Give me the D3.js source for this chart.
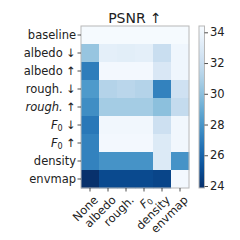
<!DOCTYPE html>
<html><head><meta charset="utf-8">
<script src="https://cdn.jsdelivr.net/npm/d3@7"></script>
<style>body{margin:0;background:#fff}svg{display:block;font-family:"DejaVu Sans",sans-serif}</style>
</head><body><svg id="c" width="240" height="240"></svg>
<script>
const rows = ["baseline","albedo ↓","albedo ↑","rough. ↓","rough. ↑","F0 ↓","F0 ↑","density","envmap"];
const cols = ["None","albedo","rough.","F0","density","envmap"];
const values = [
  [34.3,34.3,34.3,34.3,34.3,34.3],
  [30.3,33.4,33.3,33.4,32.0,34.0],
  [27.0,34.2,34.2,34.2,32.8,34.0],
  [28.2,31.2,31.4,31.2,27.2,32.3],
  [27.7,30.7,30.7,30.7,30.0,31.8],
  [26.8,34.1,34.1,34.1,32.2,34.1],
  [27.2,34.2,34.2,34.2,33.0,34.1],
  [27.2,27.9,27.9,27.9,33.0,27.9],
  [23.9,24.9,24.9,24.9,24.7,34.2]
];
const cbTicks = [24,26,28,30,32,34];
const vmin = 23.87, vmax = 34.41;

const svg = d3.select("#c");
const L = 81, T = 26, cw = 18, ch = 18;
const x = d3.scaleBand().domain(d3.range(cols.length)).range([L, L + cw*cols.length]);
const y = d3.scaleBand().domain(d3.range(rows.length)).range([T, T + ch*rows.length]);
const color = v => d3.interpolateBlues(1 - (v - vmin)/(vmax - vmin));

const cells = [];
values.forEach((r,i)=>r.forEach((v,j)=>cells.push({i,j,v})));
svg.append("g").selectAll("rect").data(cells).join("rect")
  .attr("x", d=>x(d.j)).attr("y", d=>y(d.i))
  .attr("width", x.bandwidth()+0.3).attr("height", y.bandwidth()+0.3)
  .attr("fill", d=>color(d.v));
svg.append("rect").attr("x",L).attr("y",T).attr("width",cw*cols.length).attr("height",ch*rows.length)
  .attr("fill","none").attr("stroke","#b8b8b8").attr("stroke-width",1);

// title
svg.append("text").attr("x", L + cw*cols.length/2).attr("y", 23).attr("text-anchor","middle")
  .attr("font-size", 14).attr("fill","#222").text("PSNR ↑");

// y ticks
const fs = 11.5;
const yg = svg.append("g");
rows.forEach((r,i)=>{
  const cy = y(i) + ch/2;
  yg.append("line").attr("x1",L-3.5).attr("x2",L).attr("y1",cy).attr("y2",cy).attr("stroke","#222").attr("stroke-width",0.8);
  const t = yg.append("text").attr("x",L-5).attr("y",cy).attr("dy","0.35em").attr("text-anchor","end")
    .attr("font-size",fs).attr("fill","#222");
  if (r.startsWith("F0")) {
    t.append("tspan").attr("font-style","italic").text("F");
    t.append("tspan").attr("font-size",fs*0.7).attr("dy","0.2em").text("0");
    t.append("tspan").attr("dy","-0.15em").text(r.slice(2));
  } else if (r === "rough. ↑") {
    t.append("tspan").attr("font-style","italic").text("rough.");
    t.append("tspan").text("  ↑");
  } else t.text(r);
});

// x ticks
const xg = svg.append("g");
const B = T + ch*rows.length;
cols.forEach((c,j)=>{
  const cx = x(j) + cw/2;
  xg.append("line").attr("x1",cx).attr("x2",cx).attr("y1",B).attr("y2",B+3.5).attr("stroke","#222").attr("stroke-width",0.8);
  const t = xg.append("text").attr("transform",`translate(${cx+3},${B+7}) rotate(-45)`)
    .attr("text-anchor","end").attr("dy","0.7em").attr("font-size",fs).attr("fill","#222");
  if (c === "F0") {
    t.append("tspan").attr("font-style","italic").text("F");
    t.append("tspan").attr("font-size",fs*0.7).attr("dy","0.2em").text("0");
  } else t.text(c);
});

// colorbar
const cbX = 199, cbW = 5.5;
const cy = d3.scaleLinear().domain([vmin, vmax]).range([B, T]);
const defs = svg.append("defs");
const grad = defs.append("linearGradient").attr("id","g").attr("x1",0).attr("y1",1).attr("x2",0).attr("y2",0);
d3.range(0,1.0001,0.05).forEach(s=>grad.append("stop").attr("offset",s).attr("stop-color",color(vmin + s*(vmax-vmin))));
svg.append("rect").attr("x",cbX).attr("y",T).attr("width",cbW).attr("height",B-T).attr("fill","url(#g)")
  .attr("stroke","#b8b8b8").attr("stroke-width",1);
const cbAxis = d3.axisRight(cy).tickValues(cbTicks).tickSize(3.5).tickPadding(2);
const ag = svg.append("g").attr("transform",`translate(${cbX+cbW},0)`).call(cbAxis);
ag.select(".domain").remove();
ag.selectAll("text").attr("font-size",fs).attr("fill","#222").attr("font-family","DejaVu Sans");
ag.selectAll("line").attr("stroke","#222").attr("stroke-width",0.8);
</script></body></html>
